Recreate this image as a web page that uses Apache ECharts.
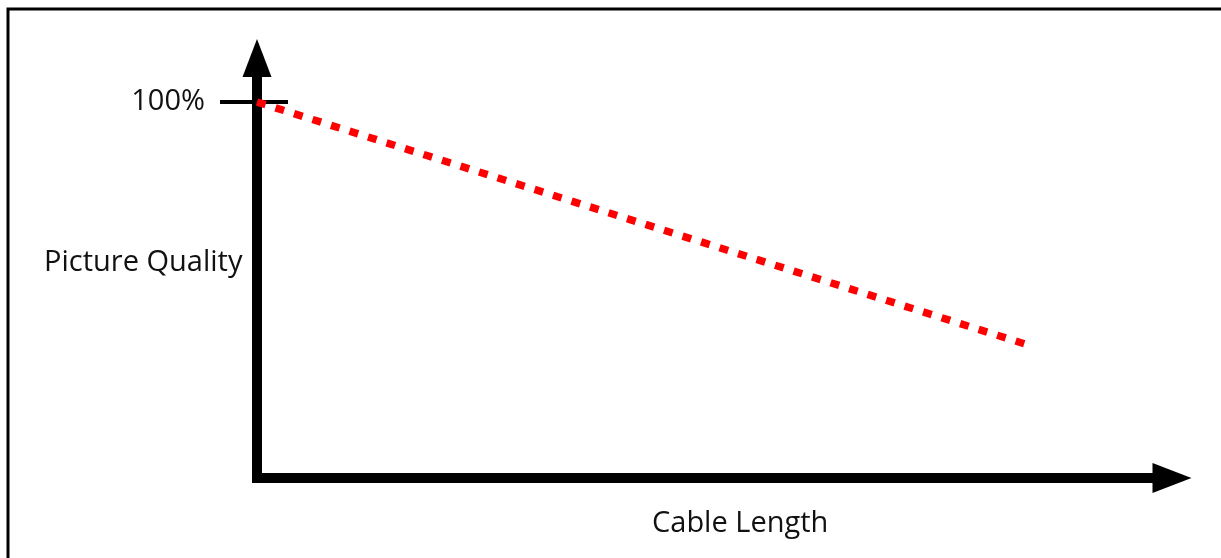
<!DOCTYPE html>
<html>
<head>
<meta charset="utf-8">
<script src="https://cdn.jsdelivr.net/npm/echarts@6/dist/echarts.min.js"></script>
<style>
html,body{margin:0;padding:0;background:#fff;}
#chart{width:1221px;height:558px;}
</style>
</head>
<body>
<div id="chart"></div>
<script>
// Data
const cableLength = [0, 100];
const pictureQuality = [100, 35.4];
const yTickValues = [100];
const yTickLabels = ['100%'];
const xAxisTitle = 'Cable Length';
const yAxisTitle = 'Picture Quality';

const chart = echarts.init(document.getElementById('chart'));
const font = '"Open Sans", "DejaVu Sans", sans-serif';
const seriesData = cableLength.map((x, i) => [x, pictureQuality[i]]);

chart.setOption({
  animation: false,
  backgroundColor: '#fff',
  grid: { left: 257, right: 49, top: 58, bottom: 80, containLabel: false },
  title: [
    { text: yAxisTitle, left: 39, top: 243, textStyle: { fontFamily: font, fontSize: 29, fontWeight: 'normal', color: '#111' } },
    { text: xAxisTitle, left: 647, top: 504, textStyle: { fontFamily: font, fontSize: 29, fontWeight: 'normal', color: '#111' } }
  ],
  xAxis: {
    type: 'value', min: 0, max: 118.7,
    axisLine: { show: true, symbol: ['none', 'triangle'], symbolSize: [30, 39], lineStyle: { color: '#000', width: 10, cap: 'square' } },
    axisTick: { show: false }, axisLabel: { show: false }, splitLine: { show: false }
  },
  yAxis: [
    {
      type: 'value', min: 0, max: 111.7,
      axisLine: { show: true, symbol: ['none', 'triangle'], symbolSize: [29, 38], lineStyle: { color: '#000', width: 10, cap: 'square' } },
      axisTick: { show: true, customValues: yTickValues, length: 37, lineStyle: { color: '#000', width: 4 } },
      axisLabel: {
        show: true, customValues: yTickValues, margin: 52, padding: [4, 0, 0, 0],
        formatter: (v) => yTickLabels[yTickValues.indexOf(v)] || '',
        fontFamily: font, fontSize: 29, color: '#111'
      },
      splitLine: { show: false }
    },
    {
      type: 'value', min: 0, max: 111.7, position: 'left', offset: 0,
      axisLine: { show: false },
      axisTick: { show: true, inside: true, customValues: yTickValues, length: 31, lineStyle: { color: '#000', width: 4 } },
      axisLabel: { show: false }, splitLine: { show: false }
    }
  ],
  graphic: [
    { type: 'polyline', shape: { points: [[8, 558], [8, 9], [1221, 9]] }, style: { stroke: '#000', lineWidth: 3, fill: null }, z: 100 }
  ],
  series: [{
    type: 'line', data: seriesData, showSymbol: false, clip: false, z: 10,
    lineStyle: { color: '#ff0000', width: 7.5, type: [9, 10.4], cap: 'butt' }
  }]
});
</script>
</body>
</html>
